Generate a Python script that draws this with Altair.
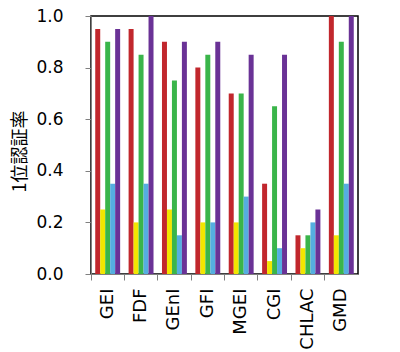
import altair as alt
import pandas as pd

categories = ["GEI", "FDF", "GEnI", "GFI", "MGEI", "CGI", "CHLAC", "GMD"]
series = ["s1", "s2", "s3", "s4", "s5"]
colors = ["#C1272D", "#F2E600", "#3AB54A", "#55AEE0", "#6A3296"]
s1 = [0.95, 0.95, 0.90, 0.80, 0.70, 0.35, 0.15, 1.00]
s2 = [0.25, 0.20, 0.25, 0.20, 0.20, 0.05, 0.10, 0.15]
s3 = [0.90, 0.85, 0.75, 0.85, 0.70, 0.65, 0.15, 0.90]
s4 = [0.35, 0.35, 0.15, 0.20, 0.30, 0.10, 0.20, 0.35]
s5 = [0.95, 1.00, 0.90, 0.90, 0.85, 0.85, 0.25, 1.00]

rows = []
for name, vals in zip(series, [s1, s2, s3, s4, s5]):
    for c, v in zip(categories, vals):
        rows.append({"cat": c, "series": name, "value": v})
df = pd.DataFrame(rows)

chart = alt.Chart(df).mark_bar().encode(
    x=alt.X("cat:N", sort=categories,
            scale=alt.Scale(paddingInner=0, paddingOuter=0),
            axis=alt.Axis(title=None, labelAngle=270, labelAlign="right", labelBaseline="middle",
                          labelFont="DejaVu Sans", labelFontSize=18, labelColor="#000000",
                          labelPadding=8, tickSize=6, bandPosition=0, tickColor="#808080",
                          domainColor="#808080")),
    xOffset=alt.XOffset("series:N", sort=series,
                        scale=alt.Scale(paddingInner=0, paddingOuter=0.85)),
    y=alt.Y("value:Q", scale=alt.Scale(domain=[0, 1]),
            axis=alt.Axis(title="1位認証率", values=[0, 0.2, 0.4, 0.6, 0.8, 1.0], format=".1f",
                          grid=False, labelFont="DejaVu Sans", labelFontSize=17,
                          labelColor="#000000", labelPadding=22, tickSize=6,
                          tickColor="#808080", domainColor="#808080",
                          titleFont="Noto Sans CJK JP", titleFontSize=18, titleFontWeight="normal",
                          titleColor="#000000", titleX=-71, titleY=135, titleAngle=270,
                          titleAlign="center", titleBaseline="middle")),
    color=alt.Color("series:N", sort=series,
                    scale=alt.Scale(domain=series, range=colors), legend=None),
).properties(
    width=267, height=258,
    autosize=alt.AutoSizeParams(type="none"),
    padding={"left": 91, "top": 16, "right": 42, "bottom": 78},
).configure_view(stroke="#000000", strokeWidth=1.5)

chart.save("out.html", embed_options={"renderer": "svg", "actions": False})
